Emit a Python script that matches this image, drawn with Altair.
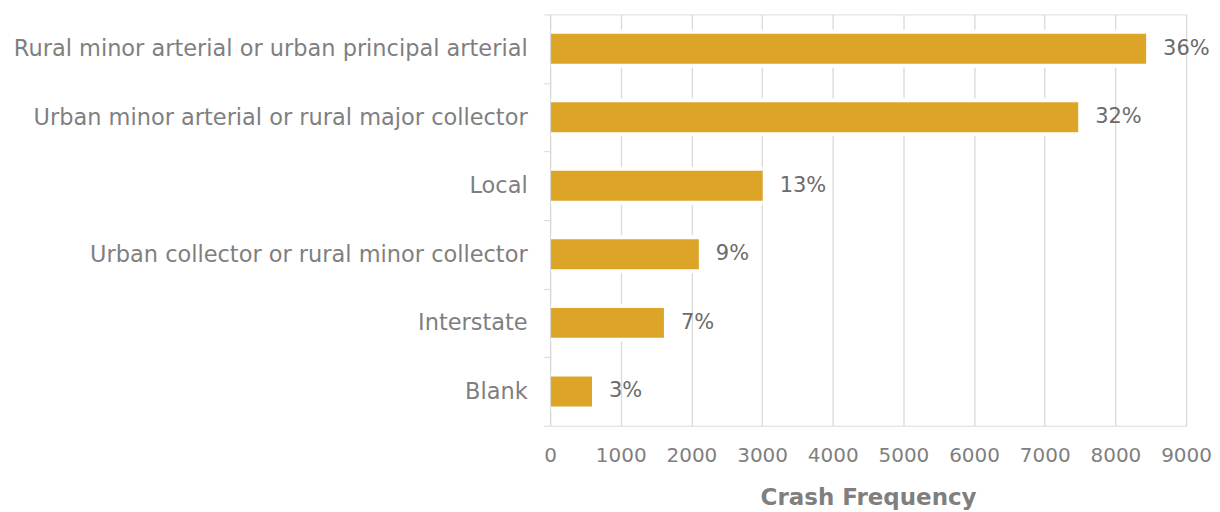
import altair as alt
import pandas as pd

categories = [
    "Rural minor arterial or urban principal arterial",
    "Urban minor arterial or rural major collector",
    "Local",
    "Urban collector or rural minor collector",
    "Interstate",
    "Blank",
]
crashes = [8435, 7474, 3009, 2105, 1611, 593]
pct_labels = ["36%", "32%", "13%", "9%", "7%", "3%"]

df = pd.DataFrame({"cat": categories, "n": crashes, "pct": pct_labels})

FONT = "DejaVu Sans"
GOLD = "#DCA528"

y_enc = alt.Y(
    "cat:N",
    sort=categories,
    title="",
    scale=alt.Scale(paddingInner=0.0, paddingOuter=0.0),
    axis=alt.Axis(
        tickBand="extent",
        grid=False,
        domainColor="#d9d9d9",
        tickColor="#d9d9d9",
        tickSize=7,
        labelPadding=16,
        labelFontSize=22.5,
        labelColor="#7f7f7f",
        labelFont=FONT,
        labelLimit=700,
        zindex=1,
    ),
)
x_enc = alt.X(
    "n:Q",
    title="Crash Frequency",
    scale=alt.Scale(domain=[0, 9000], nice=False),
    axis=alt.Axis(
        values=list(range(0, 9001, 1000)),
        format="d",
        labelOverlap=False,
        labelFlush=False,
        domain=False,
        ticks=False,
        grid=True,
        gridColor="#d9d9d9",
        gridWidth=1.3,
        labelFontSize=20,
        labelColor="#7f7f7f",
        labelFont=FONT,
        labelPadding=20,
        titleFont=FONT,
        titleFontSize=23,
        titleFontWeight="bold",
        titleColor="#7f7f7f",
        titlePadding=21,
        zindex=0,
    ),
)

base = alt.Chart(df).encode(y=y_enc)

under = base.mark_bar(color="white", size=38).encode(x=x_enc)
bars = base.mark_bar(color=GOLD, size=30).encode(x="n:Q")
text = base.mark_text(
    align="left", baseline="middle", dx=17, fontSize=21, font=FONT, color="#6b6b6b"
).encode(x="n:Q", text="pct:N")

chart = (
    alt.layer(under, bars, text)
    .properties(width=637, height=412)
    .configure_view(stroke="transparent")
    .configure(padding={"left": 5, "top": -5, "right": 0, "bottom": 0})
)

chart.save("out.html", embed_options={"renderer": "svg", "actions": False})
